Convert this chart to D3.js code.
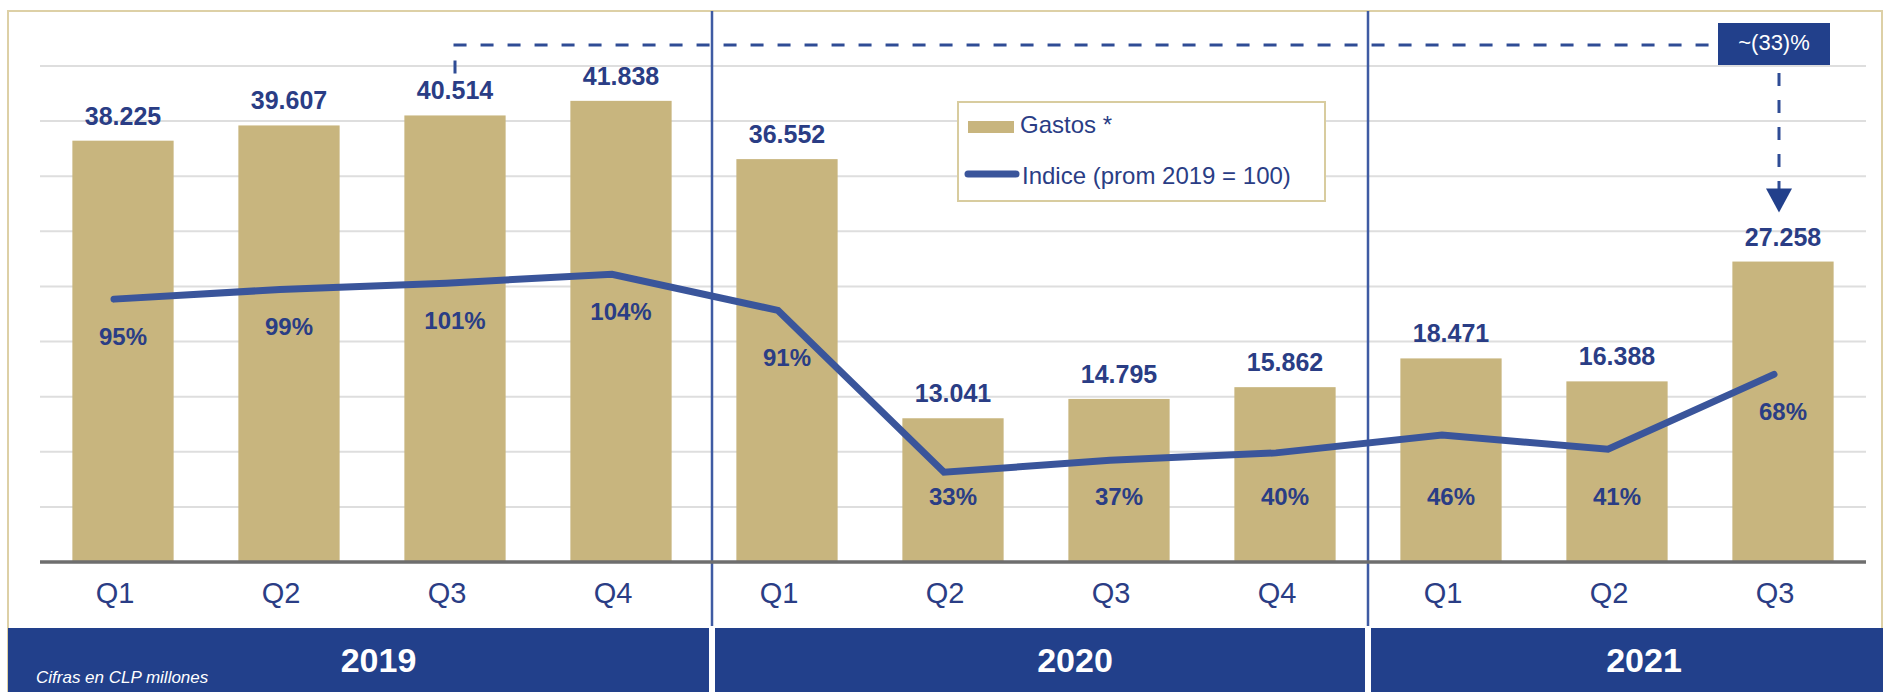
<!DOCTYPE html>
<html>
<head>
<meta charset="utf-8">
<script src="https://cdn.jsdelivr.net/npm/d3@7"></script>
<style>
  html, body { margin: 0; padding: 0; background: #ffffff; }
  svg { display: block; font-family: "Liberation Sans", Arial, Helvetica, sans-serif; }
</style>
</head>
<body>
<svg id="chart" width="1883" height="692"></svg>
<script>
// ---- data ----
const years = ["2019", "2020", "2021"];
const quarters = ["Q1", "Q2", "Q3", "Q4", "Q1", "Q2", "Q3", "Q4", "Q1", "Q2", "Q3"];
const quarterYear = ["2019", "2019", "2019", "2019", "2020", "2020", "2020", "2020", "2021", "2021", "2021"];
const gastos = [38225, 39607, 40514, 41838, 36552, 13041, 14795, 15862, 18471, 16388, 27258];
const indice = [95.4, 98.9, 101.2, 104.4, 91.3, 32.6, 36.9, 39.6, 46.1, 40.9, 68.1];
const gastosTicks = [0, 5000, 10000, 15000, 20000, 25000, 30000, 35000, 40000, 45000];
const legendLabels = ["Gastos *", "Indice (prom 2019 = 100)"];
const annotationText = "~(33)%";
const footnote = "Cifras en CLP millones";

// ---- styling ----
const GOLD = "#c8b57e";
const TEXT_BLUE = "#2a3d85";
const LINE_BLUE = "#3a559b";
const BAND_BLUE = "#22408b";
const DASH_BLUE = "#2f4c95";
const FONT = '"Liberation Sans", Arial, Helvetica, sans-serif';

const svg = d3.select("#chart");
const keys = quarters.map((q, i) => quarterYear[i] + "-" + q);

const plotLeft = 40, plotRight = 1866, plotTop = 66, plotBottom = 562;
const x = d3.scaleBand().domain(keys).range([plotLeft, plotRight]).paddingInner(0.39).paddingOuter(0.195);
const yBar = d3.scaleLinear().domain([0, 45000]).range([plotBottom, plotTop]);
const yIdx = d3.scaleLinear().domain([0, 180]).range([plotBottom, plotTop]);
const cx = k => x(k) + x.bandwidth() / 2;
const lineShift = -9;

// outer frame
svg.append("path")
  .attr("d", `M8,692 L8,11 L1882,11 L1882,692`)
  .attr("fill", "none").attr("stroke", "#ddd0a6").attr("stroke-width", 2);

// gridlines
svg.append("g").selectAll("line").data(gastosTicks.slice(1)).join("line")
  .attr("x1", plotLeft).attr("x2", plotRight)
  .attr("y1", d => yBar(d)).attr("y2", d => yBar(d))
  .attr("stroke", "#dedede").attr("stroke-width", 2);

// year sections
const yearBounds = years.map(yr => {
  const ks = keys.filter((k, i) => quarterYear[i] === yr);
  return { yr, first: ks[0], last: ks[ks.length - 1] };
});
const dividers = yearBounds.slice(1).map((b, i) => {
  const prevLast = yearBounds[i].last;
  return (x(prevLast) + x.bandwidth() + x(b.first)) / 2 + (i === 0 ? 8 : 0);
});

// bottom band
const bandTop = 628;
const edges = [8].concat(dividers).concat([1883]);
const sections = years.map((yr, i) => ({
  yr,
  x0: edges[i] + (i === 0 ? 0 : 3),
  x1: edges[i + 1] - (i === years.length - 1 ? 0 : 3)
}));
const yearOffsets = [20, 35, 17];
svg.append("g").selectAll("rect").data(sections).join("rect")
  .attr("x", d => d.x0).attr("y", bandTop)
  .attr("width", d => d.x1 - d.x0).attr("height", 692 - bandTop)
  .attr("fill", BAND_BLUE);
svg.append("g").selectAll("text").data(sections).join("text")
  .attr("x", (d, i) => (d.x0 + d.x1) / 2 + yearOffsets[i]).attr("y", 672)
  .attr("text-anchor", "middle").attr("fill", "#ffffff")
  .attr("font-size", 34).attr("font-weight", "bold").attr("font-family", FONT)
  .text(d => d.yr);
svg.append("text").attr("x", 36).attr("y", 683)
  .attr("fill", "#ffffff").attr("font-size", 17).attr("font-style", "italic")
  .attr("font-family", FONT).text(footnote);

// bars
svg.append("g").selectAll("rect").data(keys).join("rect")
  .attr("x", d => x(d)).attr("width", x.bandwidth())
  .attr("y", (d, i) => yBar(gastos[i]))
  .attr("height", (d, i) => yBar(0) - yBar(gastos[i]))
  .attr("fill", GOLD);

// divider lines
svg.append("g").selectAll("line").data(dividers).join("line")
  .attr("x1", d => d).attr("x2", d => d)
  .attr("y1", 11).attr("y2", bandTop - 2)
  .attr("stroke", "#3f5ba3").attr("stroke-width", 2.5);

// baseline
svg.append("line").attr("x1", plotLeft).attr("x2", plotRight)
  .attr("y1", yBar(0)).attr("y2", yBar(0))
  .attr("stroke", "#6e6e6e").attr("stroke-width", 3.5);

// x axis labels
svg.append("g").selectAll("text").data(keys).join("text")
  .attr("x", d => cx(d) + lineShift + 1).attr("y", 603)
  .attr("text-anchor", "middle").attr("fill", TEXT_BLUE)
  .attr("font-size", 29).attr("font-family", FONT)
  .text((d, i) => quarters[i]);

// bar value labels
const fmt = v => d3.format(",")(v).replace(/,/g, ".");
svg.append("g").selectAll("text").data(keys).join("text")
  .attr("x", d => cx(d)).attr("y", (d, i) => yBar(gastos[i]) - 16)
  .attr("text-anchor", "middle").attr("fill", TEXT_BLUE)
  .attr("font-size", 25).attr("font-weight", "bold").attr("font-family", FONT)
  .text((d, i) => fmt(gastos[i]));

// index line
const line = d3.line()
  .x(d => cx(d) + lineShift)
  .y((d, i) => yIdx(indice[i]));
svg.append("path").datum(keys)
  .attr("d", line)
  .attr("fill", "none").attr("stroke", LINE_BLUE)
  .attr("stroke-width", 7).attr("stroke-linejoin", "miter").attr("stroke-linecap", "round");

// index labels
svg.append("g").selectAll("text").data(keys).join("text")
  .attr("x", d => cx(d)).attr("y", (d, i) => indice[i] >= 50 ? yIdx(indice[i]) + (indice[i] < 100 && indice[i] > 90 && i > 3 ? 56 : 46) : 505)
  .attr("text-anchor", "middle").attr("fill", TEXT_BLUE)
  .attr("font-size", 24).attr("font-weight", "bold").attr("font-family", FONT)
  .text((d, i) => Math.round(indice[i]) + "%");

// annotation
const fromKey = keys[2], toKey = keys[keys.length - 1];
const ax0 = cx(fromKey);
const ax1 = cx(toKey) - 4;
const annY = yBar(45000) - 21;
const boxW = 112, boxH = 42;
const boxX = ax1 - 61, boxY = annY - 22;
svg.append("path")
  .attr("d", `M${ax0},${yBar(gastos[2]) - 42} L${ax0},${annY} L${boxX},${annY}`)
  .attr("fill", "none").attr("stroke", DASH_BLUE).attr("stroke-width", 3)
  .attr("stroke-dasharray", "13,14");
const tipY = yBar(gastos[gastos.length - 1]) - 49;
svg.append("path")
  .attr("d", `M${ax1},${boxY + boxH + 8} L${ax1},${tipY - 20}`)
  .attr("fill", "none").attr("stroke", DASH_BLUE).attr("stroke-width", 3)
  .attr("stroke-dasharray", "13,14");
svg.append("path")
  .attr("d", `M${ax1 - 13},${tipY - 24} L${ax1 + 13},${tipY - 24} L${ax1},${tipY} Z`)
  .attr("fill", BAND_BLUE);
svg.append("rect").attr("x", boxX).attr("y", boxY).attr("width", boxW).attr("height", boxH)
  .attr("fill", BAND_BLUE);
svg.append("text").attr("x", boxX + boxW / 2).attr("y", boxY + 27)
  .attr("text-anchor", "middle").attr("fill", "#ffffff")
  .attr("font-size", 22).attr("font-family", FONT).text(annotationText);

// legend
const lg = svg.append("g");
lg.append("rect").attr("x", 958).attr("y", 102).attr("width", 367).attr("height", 99)
  .attr("fill", "#ffffff").attr("stroke", "#d8cc9f").attr("stroke-width", 2);
lg.append("rect").attr("x", 968).attr("y", 121).attr("width", 46).attr("height", 12).attr("fill", GOLD);
lg.append("line").attr("x1", 968).attr("x2", 1016).attr("y1", 174).attr("y2", 174)
  .attr("stroke", LINE_BLUE).attr("stroke-width", 7).attr("stroke-linecap", "round");
lg.append("text").attr("x", 1020).attr("y", 133).attr("fill", TEXT_BLUE)
  .attr("font-size", 24).attr("font-family", FONT).text(legendLabels[0]);
lg.append("text").attr("x", 1022).attr("y", 184).attr("fill", TEXT_BLUE)
  .attr("font-size", 24).attr("font-family", FONT).text(legendLabels[1]);
</script>
</body>
</html>
